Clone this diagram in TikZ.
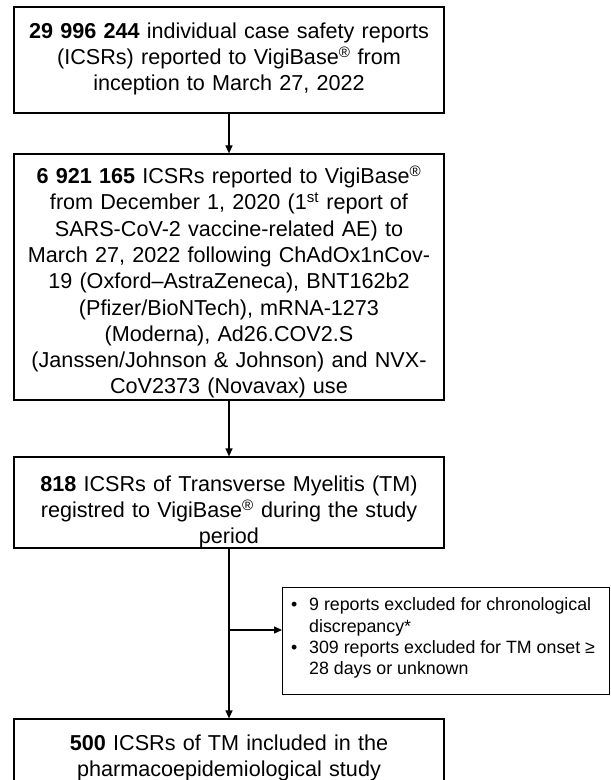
\documentclass[tikz,border=0pt]{standalone}
\usepackage{fontspec}
\setmainfont{Liberation Sans}
\usetikzlibrary{arrows.meta}
\newcommand\bigfnt{\fontsize{21.6bp}{26.3bp}\selectfont}
\newcommand\smallfnt{\fontsize{17.8bp}{21.2bp}\selectfont}
\newcommand\regm{\textsuperscript{®}}
\begin{document}
\begin{tikzpicture}[x=1bp,y=-1bp,
  boxnode/.style={draw=black, line width=1.2bp, minimum width=430bp, inner sep=0pt, fill=none},
  boxtext/.style={align=center, font=\bigfnt, inner sep=0pt, text width=430bp},
  exbox/.style={draw=black, line width=1.2bp, minimum width=327bp, minimum height=107bp, inner sep=0pt, anchor=north west},
  extext/.style={align=left, font=\smallfnt, inner sep=0pt, anchor=west},
  arr/.style={line width=1.2bp, -{Triangle[length=8bp,width=7bp]}}]
\useasboundingbox (0,0) rectangle (611,780);
\clip (0,0) rectangle (611,780);
\fill[white] (0,0) rectangle (611,780);
% boxes
\node[boxnode, minimum height=106bp] (b1) at (229,60) {};
\node[boxnode, minimum height=246bp] (b2) at (229,277) {};
\node[boxnode, minimum height=91bp] (b3) at (229,502.5) {};
\node[boxnode, minimum height=80bp] (b4) at (229,759) {};
\node[exbox] (ex) at (282,587) {};
% texts
\node[boxtext] (t1) at (229,59) {\textbf{29 996 244} individual case safety reports\\(ICSRs) reported to VigiBase\regm{} from\\inception to March 27, 2022};
\node[boxtext] (t2) at (229,282) {\textbf{6 921 165} ICSRs reported to VigiBase\regm\\from December 1, 2020 (1\textsuperscript{st} report of\\SARS-CoV-2 vaccine-related AE) to\\March 27, 2022 following ChAdOx1nCov-\\19 (Oxford–AstraZeneca), BNT162b2\\(Pfizer/BioNTech), mRNA-1273\\(Moderna), Ad26.COV2.S\\(Janssen/Johnson \& Johnson) and NVX-\\CoV2373 (Novavax) use};
\node[boxtext] (t3) at (229,512) {\textbf{818} ICSRs of Transverse Myelitis (TM)\\registred to VigiBase\regm{} during the study\\period};
\node[boxtext] (t4) at (229,758) {\textbf{500} ICSRs of TM included in the\\pharmacoepidemiological study};
\node[extext] (tx) at (291,638) {\makebox[18bp][l]{•}9 reports excluded for chronological\\\hspace*{18bp}discrepancy*\\\makebox[18bp][l]{•}309 reports excluded for TM onset ≥\\\hspace*{18bp}28 days or unknown};
% connectors
\draw[arr] (b1.south) -- (b2.north);
\draw[arr] (b2.south) -- (b3.north);
\draw[arr] (b3.south) -- (b4.north);
\coordinate (br) at (229,630);
\draw[arr] (br) -- (br -| ex.west);
\end{tikzpicture}
\end{document}
